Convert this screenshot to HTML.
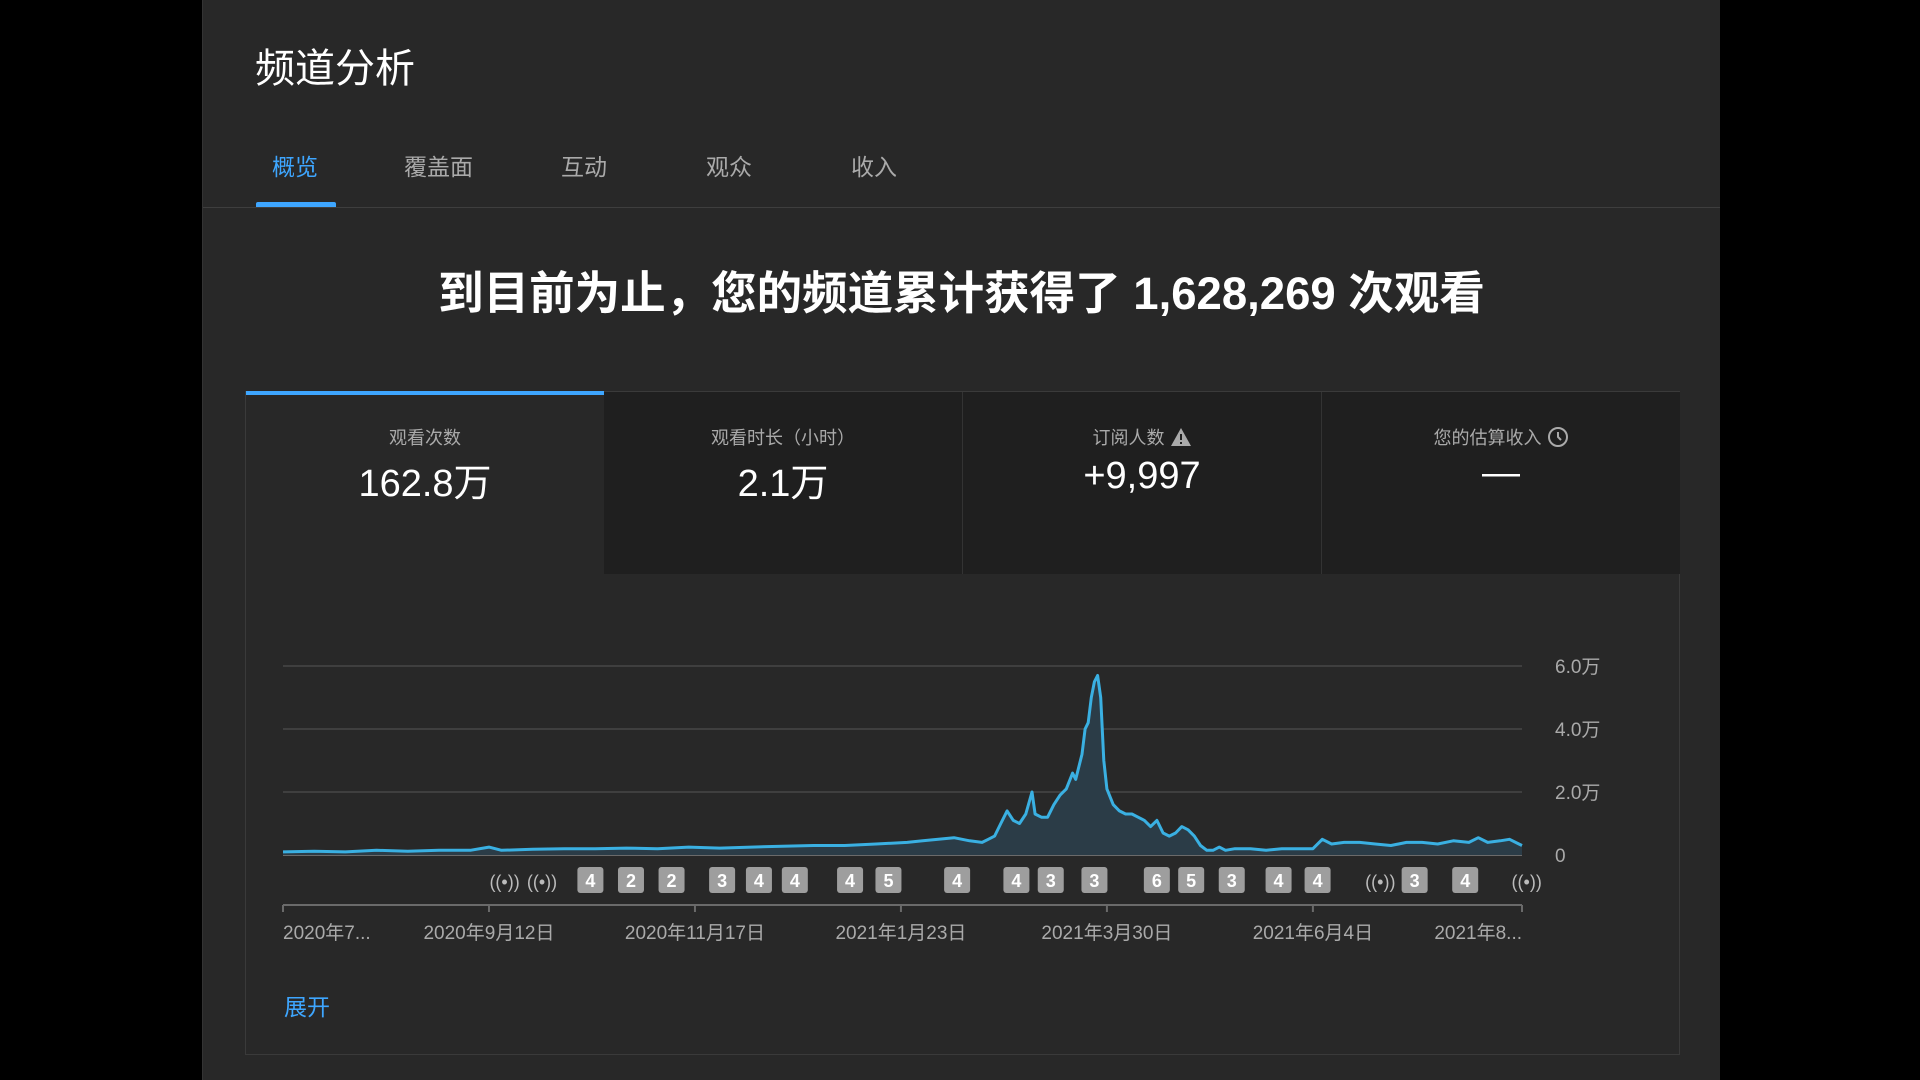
<!DOCTYPE html>
<html><head><meta charset="utf-8"><style>
html,body{margin:0;padding:0;background:#000;width:1920px;height:1080px;overflow:hidden;font-family:"Liberation Sans","Noto Sans CJK SC",sans-serif;}
#panel{position:absolute;left:202px;top:0;width:1517px;height:1080px;background:#282828;border-left:1px solid #333;}
.abs{position:absolute;}
#title{left:52px;top:36px;font-size:40px;color:#fff;}
.tab{position:absolute;top:148px;font-size:23px;color:#aaa;}
#divider{left:0;top:207px;width:1517px;height:1px;background:#3e3e3e;}
#tabbar{left:53px;top:202px;width:80px;height:5px;background:#3ea6ff;border-radius:2px 2px 0 0;}
#headline{left:0;width:1517px;top:257px;text-align:center;font-size:45.5px;font-weight:bold;color:#fff;}
#card{left:42px;top:391px;width:1433px;height:662px;border:1px solid #3a3a3a;}
.metric{position:absolute;top:0;height:182px;width:358px;background:#1f1f1f;text-align:center;border-right:1px solid #333;}
.metric .lab{position:absolute;top:32px;width:100%;font-size:18px;color:#aaa;}
.metric .val{position:absolute;top:60px;width:100%;font-size:38px;color:#fff;}
#expand{left:81px;top:988px;font-size:23px;color:#3ea6ff;}
svg text{font-family:"Liberation Sans","Noto Sans CJK SC",sans-serif;}
</style></head><body>
<div id="panel">
  <div id="title" class="abs">频道分析</div>
  <div class="tab" style="left:69px;color:#3ea6ff">概览</div>
  <div class="tab" style="left:201px">覆盖面</div>
  <div class="tab" style="left:358px">互动</div>
  <div class="tab" style="left:503px">观众</div>
  <div class="tab" style="left:648px">收入</div>
  <div id="tabbar" class="abs"></div>
  <div id="divider" class="abs"></div>
  <div id="headline" class="abs">到目前为止，您的频道累计获得了 1,628,269 次观看</div>
  <div id="card" class="abs">
    <div class="metric" style="left:0;background:#282828;">
      <div class="abs" style="left:0;top:-1px;width:358px;height:4px;background:#3ea6ff"></div>
      <div class="lab">观看次数</div>
      <div class="val">162.8万</div>
    </div>
    <div class="metric" style="left:358px">
      <div class="lab">观看时长（小时）</div>
      <div class="val">2.1万</div>
    </div>
    <div class="metric" style="left:717px">
      <div class="lab">订阅人数 <svg width="22" height="20" viewBox="0 0 22 20" style="vertical-align:-3px"><path d="M11 1 L21 19 L1 19 Z" fill="#aaa"/><rect x="10" y="7" width="2" height="6" fill="#1f1f1f"/><rect x="10" y="15" width="2" height="2" fill="#1f1f1f"/></svg></div>
      <div class="val" style="top:63px">+9,997</div>
    </div>
    <div class="metric" style="left:1076px;border-right:none">
      <div class="lab">您的估算收入 <svg width="22" height="22" viewBox="0 0 22 22" style="vertical-align:-4px"><circle cx="11" cy="11" r="9" fill="none" stroke="#aaa" stroke-width="2"/><path d="M11 6 V11 L14 14" fill="none" stroke="#aaa" stroke-width="2"/></svg></div>
      <div class="val">—</div>
    </div>
  </div>
  <div id="expand" class="abs">展开</div>
</div>
<svg id="chart" class="abs" style="left:0;top:0" width="1920" height="1080"></svg>
<script>
const days=[0,10,20,30,40,50,60,66,70,80,90,100,110,120,130,140,150,160,170,180,190,200,205,210,215,220,224,226,228,230,232,234,236,238,240,241,243,245,247,249,251,253,254,256,257,258,259,260,261,262,263,264,266,268,270,272,274,276,278,280,282,284,286,288,290,292,294,296,298,300,302,305,310,315,320,325,330,333,336,340,345,350,355,360,365,370,375,380,383,386,390,393,396,397];
const views=[0.1,0.12,0.1,0.15,0.12,0.15,0.15,0.25,0.15,0.18,0.2,0.2,0.22,0.2,0.25,0.22,0.25,0.28,0.3,0.3,0.35,0.4,0.45,0.5,0.55,0.45,0.4,0.5,0.6,1.0,1.4,1.1,1.0,1.3,2.0,1.3,1.2,1.2,1.6,1.9,2.1,2.6,2.4,3.2,4.0,4.2,5.0,5.5,5.7,5.0,3.0,2.1,1.6,1.4,1.3,1.3,1.2,1.1,0.9,1.1,0.7,0.6,0.7,0.9,0.8,0.6,0.3,0.15,0.15,0.25,0.15,0.2,0.2,0.15,0.2,0.2,0.2,0.5,0.35,0.4,0.4,0.35,0.3,0.4,0.4,0.35,0.45,0.4,0.55,0.4,0.45,0.5,0.35,0.3];
const yTicks=[0,2,4,6];
const yTickLabels=["0","2.0万","4.0万","6.0万"];
const xTickDays=[0,66,132,198,264,330,397];
const xTickLabels=["2020年7...","2020年9月12日","2020年11月17日","2021年1月23日","2021年3月30日","2021年6月4日","2021年8..."];
const markerDays=[71,83,98.5,111.5,124.5,140.7,152.5,164,181.7,194,216,235,246,260,280,291,304,319,331.5,351.6,362.6,378.8,398.5];
const markerLabels=["live","live","4","2","2","3","4","4","4","5","4","4","3","3","6","5","3","4","4","live","3","4","live"];
const X0=283,X1=1522,DMAX=397,Y0=855,PER=31.5;
const xs=d=>X0+d*(X1-X0)/DMAX;
const ys=v=>Y0-v*PER;
const svg=document.getElementById('chart');
const NS='http://www.w3.org/2000/svg';
function mk(t,a){const e=document.createElementNS(NS,t);for(const k in a)e.setAttribute(k,a[k]);svg.appendChild(e);return e;}
yTicks.forEach((v,i)=>{
  if(v>0){const g=mk('line',{x1:X0,x2:X1,y1:ys(v),y2:ys(v),stroke:'#3f3f3f','stroke-width':2});
  
  }
  const t=mk('text',{x:1555,y:ys(v)+7,fill:'#aaa','font-size':19});
  t.textContent=yTickLabels[i];
  
  
});
const base=mk('line',{x1:X0,x2:X1,y1:Y0,y2:Y0,stroke:'#6a6a6a','stroke-width':2});


let d='M'+xs(days[0])+','+ys(views[0]);
for(let i=1;i<days.length;i++)d+=' L'+xs(days[i]).toFixed(1)+','+ys(views[i]).toFixed(1);
const area=mk('path',{d:d+' L'+xs(days[days.length-1])+','+Y0+' L'+xs(days[0])+','+Y0+' Z',fill:'#2b3c47'});


const line=mk('path',{d:d,fill:'none',stroke:'#3ab0e2','stroke-width':3,'stroke-linejoin':'round'});


const ax=mk('line',{x1:X0,x2:X1,y1:905,y2:905,stroke:'#6a6a6a','stroke-width':2});


xTickDays.forEach((dd,i)=>{
  const tk=mk('line',{x1:xs(dd),x2:xs(dd),y1:905,y2:912,stroke:'#6a6a6a','stroke-width':2});
  
  
  const anchor=i===0?'start':(i===xTickDays.length-1?'end':'middle');
  const t=mk('text',{x:xs(dd),y:939,fill:'#aaa','font-size':19,'text-anchor':anchor});
  t.textContent=xTickLabels[i];
  
  
});
markerDays.forEach((dd,i)=>{
  const x=xs(dd);
  if(markerLabels[i]==='live'){
    const t=mk('text',{x:x,y:888,fill:'#bbb','font-size':18,'text-anchor':'middle'});
    t.textContent='((•))';
    
    
  } else {
    const r=mk('rect',{x:x-13,y:867,width:26,height:26,rx:3,fill:'#9e9e9e'});
    
    
    const t=mk('text',{x:x,y:887,fill:'#fff','font-size':18,'font-weight':'bold','text-anchor':'middle'});
    t.textContent=markerLabels[i];
    
    
  }
});
</script>
</body></html>
